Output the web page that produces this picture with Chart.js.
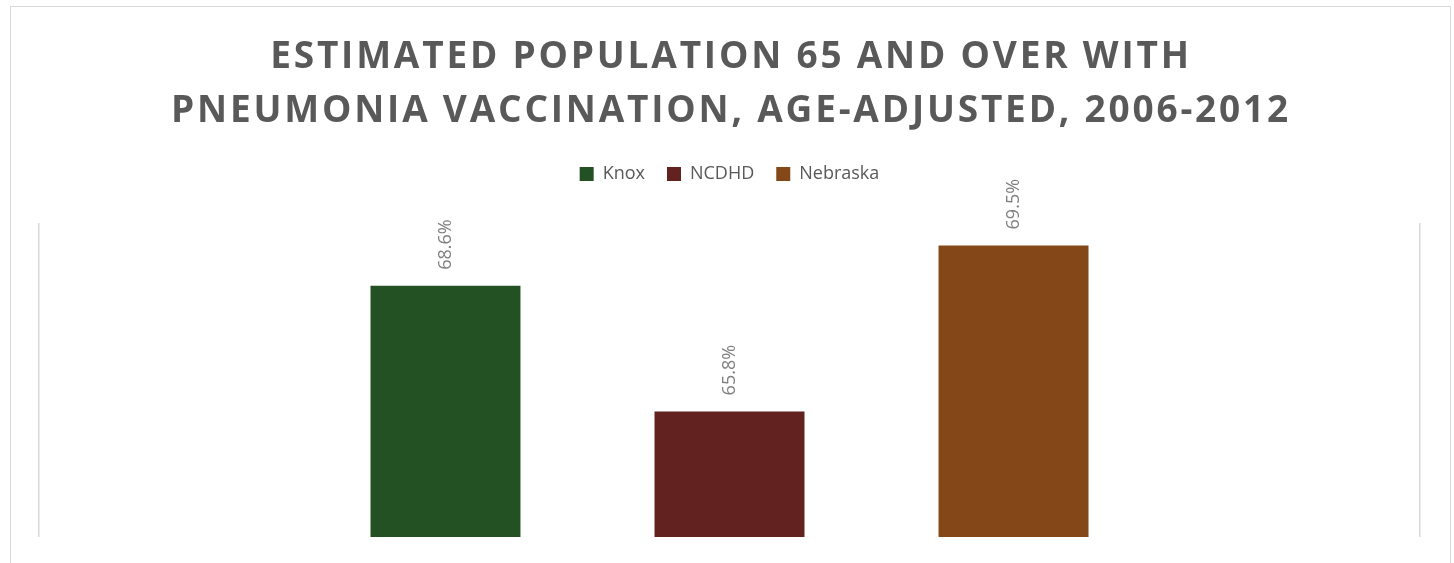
<!DOCTYPE html>
<html>
<head>
<meta charset="utf-8">
<script src="https://cdn.jsdelivr.net/npm/chart.js@4"></script>
<style>
  body { margin: 0; background: #fff; }
  #frame { position: absolute; left: 10px; top: 6px; width: 1439px; height: 600px; border: 1px solid #d9d9d9; }
  #chart { position: absolute; left: 0; top: 0; }
</style>
</head>
<body>
<div id="frame"></div>
<canvas id="chart" width="1454" height="563"></canvas>
<script>
const titleLines = ['ESTIMATED POPULATION 65 AND OVER WITH', 'PNEUMONIA VACCINATION, AGE-ADJUSTED, 2006-2012'];
const categories = ['2006-2012'];
const seriesNames = ['Knox', 'NCDHD', 'Nebraska'];
const seriesValues = [68.6, 65.8, 69.5];
const seriesColors = ['#235124', '#622320', '#834718'];

// title drawn by hand so letter spacing can be used
const titlePlugin = {
    id: 'spacedTitle',
    afterDraw(chart) {
        const ctx = chart.ctx;
        ctx.save();
        ctx.font = 'bold 37px "Open Sans"';
        ctx.fillStyle = '#595959';
        ctx.textAlign = 'center';
        ctx.textBaseline = 'alphabetic';
        ctx.letterSpacing = '2.8px';
        ctx.fillText(titleLines[0], 731, 68);
        ctx.fillText(titleLines[1], 731, 122);
        ctx.restore();
    }
};

// extra room under the legend
const legendGap = {
    id: 'legendGap',
    beforeInit(chart) {
        const fit = chart.legend.fit;
        chart.legend.fit = function() {
            fit.bind(chart.legend)();
            this.height += 30;
        };
    }
};

const valueLabels = {
    id: 'valueLabels',
    afterDatasetsDraw(chart) {
        const ctx = chart.ctx;
        ctx.save();
        ctx.font = '18px "Open Sans"';
        ctx.fillStyle = '#7f7f7f';
        ctx.textAlign = 'left';
        ctx.textBaseline = 'middle';
        chart.data.datasets.forEach((ds, i) => {
            chart.getDatasetMeta(i).data.forEach((bar, j) => {
                ctx.save();
                ctx.translate(bar.x, bar.y - 16);
                ctx.rotate(-Math.PI / 2);
                ctx.fillText(ds.data[j].toFixed(1) + '%', 0, 0);
                ctx.restore();
            });
        });
        ctx.restore();
    }
};

new Chart(document.getElementById('chart'), {
    type: 'bar',
    data: {
        labels: categories,
        datasets: seriesNames.map((name, i) => ({
            label: name,
            data: [seriesValues[i]],
            backgroundColor: seriesColors[i],
            barPercentage: 0.528,
            categoryPercentage: 0.617
        }))
    },
    options: {
        responsive: false,
        animation: false,
        layout: { padding: { top: 143, left: 39, right: 34, bottom: 26 } },
        plugins: {
            title: { display: false },
            tooltip: { enabled: false },
            legend: {
                position: 'top',
                labels: {
                    boxWidth: 14,
                    boxHeight: 14,
                    padding: 22,
                    color: '#595959',
                    font: { family: '"Open Sans"', size: 18 }
                }
            }
        },
        scales: {
            x: {
                ticks: { display: false },
                border: { display: false },
                grid: { offset: true, color: '#d9d9d9', lineWidth: 1.5, drawTicks: false }
            },
            y: {
                display: false,
                min: 63,
                max: 70
            }
        }
    },
    plugins: [titlePlugin, legendGap, valueLabels]
});
</script>
</body>
</html>
